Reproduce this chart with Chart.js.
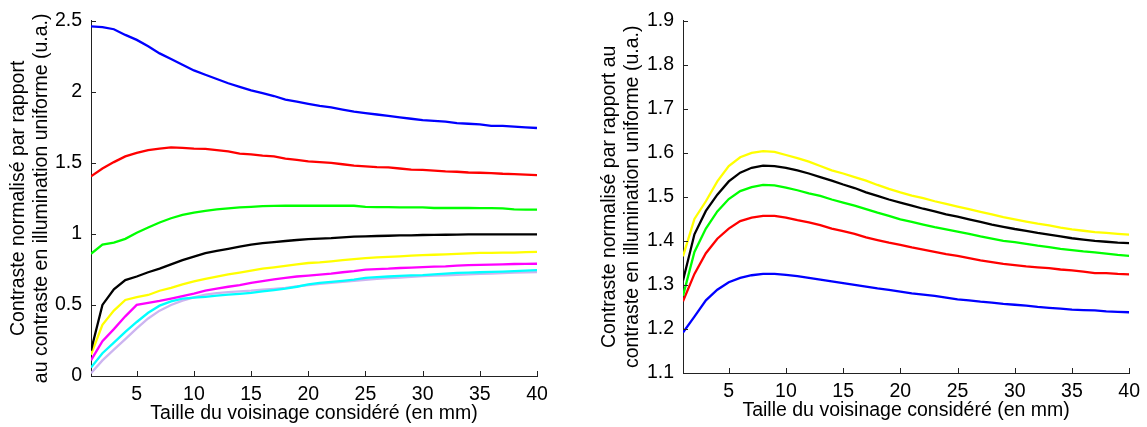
<!DOCTYPE html>
<html>
<head>
<meta charset="utf-8">
<script src="https://cdn.jsdelivr.net/npm/chart.js@4/dist/chart.umd.min.js"></script>
<style>
  html, body { margin: 0; padding: 0; background: #fff; }
  #wrap { position: relative; width: 1147px; height: 427px; }
  #leftChart { position: absolute; left: 0; top: 0; }
  #rightChart { position: absolute; left: 590px; top: 0; }
</style>
</head>
<body>
<div id="wrap">
  <canvas id="leftChart" width="560" height="427"></canvas>
  <canvas id="rightChart" width="557" height="427"></canvas>
</div>
<script>
// voisinage (mm)
const xValues = [1, 2, 3, 4, 5, 6, 7, 8, 9, 10, 11, 12, 13, 14, 15, 16, 17, 18, 19, 20,
    21, 22, 23, 24, 25, 26, 27, 28, 29, 30, 31, 32, 33, 34, 35, 36, 37, 38, 39, 40];
const xTicks = [5, 10, 15, 20, 25, 30, 35, 40];
const leftYTicks = [0, 0.5, 1, 1.5, 2, 2.5];
const rightYTicks = [1.1, 1.2, 1.3, 1.4, 1.5, 1.6, 1.7, 1.8, 1.9];

// left panel
const leftBlue = [2.46, 2.455, 2.44, 2.40, 2.365, 2.32, 2.27, 2.23, 2.19, 2.15, 2.12, 2.09, 2.06, 2.035, 2.01, 1.99, 1.97, 1.945, 1.93, 1.915,
    1.90, 1.89, 1.875, 1.86, 1.85, 1.84, 1.83, 1.82, 1.81, 1.80, 1.795, 1.79, 1.78, 1.775, 1.77, 1.76, 1.76, 1.755, 1.75, 1.745];
const leftRed = [1.405, 1.46, 1.505, 1.545, 1.57, 1.59, 1.60, 1.608, 1.605, 1.60, 1.598, 1.59, 1.58, 1.565, 1.56, 1.55, 1.545, 1.53, 1.52, 1.51,
    1.505, 1.50, 1.49, 1.48, 1.475, 1.47, 1.468, 1.46, 1.452, 1.45, 1.445, 1.44, 1.437, 1.432, 1.43, 1.428, 1.423, 1.42, 1.417, 1.414];
const leftGreen = [0.86, 0.925, 0.938, 0.965, 1.008, 1.045, 1.08, 1.11, 1.133, 1.15, 1.162, 1.172, 1.18, 1.186, 1.19, 1.195, 1.197, 1.198, 1.198, 1.198,
    1.198, 1.198, 1.198, 1.198, 1.19, 1.188, 1.188, 1.187, 1.186, 1.186, 1.182, 1.182, 1.182, 1.182, 1.181, 1.181, 1.18, 1.172, 1.17, 1.17];
const leftBlack = [0.18, 0.50, 0.61, 0.675, 0.70, 0.73, 0.755, 0.785, 0.815, 0.84, 0.865, 0.88, 0.895, 0.91, 0.925, 0.935, 0.942, 0.95, 0.957, 0.963,
    0.967, 0.97, 0.975, 0.98, 0.982, 0.985, 0.987, 0.99, 0.99, 0.992, 0.993, 0.994, 0.995, 0.996, 0.996, 0.997, 0.997, 0.997, 0.997, 0.997];
const leftYellow = [0.15, 0.36, 0.46, 0.535, 0.555, 0.57, 0.60, 0.62, 0.645, 0.665, 0.683, 0.70, 0.715, 0.728, 0.742, 0.755, 0.765, 0.775, 0.785, 0.795,
    0.80, 0.807, 0.815, 0.822, 0.83, 0.835, 0.838, 0.842, 0.847, 0.85, 0.853, 0.856, 0.86, 0.863, 0.866, 0.867, 0.868, 0.868, 0.871, 0.873];
const leftMagenta = [0.11, 0.245, 0.33, 0.42, 0.50, 0.515, 0.528, 0.545, 0.562, 0.58, 0.60, 0.615, 0.628, 0.64, 0.655, 0.668, 0.68, 0.69, 0.70, 0.706,
    0.713, 0.72, 0.73, 0.738, 0.748, 0.752, 0.755, 0.76, 0.763, 0.766, 0.77, 0.772, 0.776, 0.78, 0.782, 0.784, 0.786, 0.788, 0.789, 0.79];
const leftCyan = [0.06, 0.16, 0.235, 0.31, 0.38, 0.445, 0.495, 0.525, 0.545, 0.552, 0.557, 0.565, 0.572, 0.578, 0.585, 0.595, 0.605, 0.615, 0.628, 0.645,
    0.655, 0.662, 0.67, 0.678, 0.69, 0.695, 0.70, 0.705, 0.708, 0.71, 0.715, 0.72, 0.725, 0.727, 0.73, 0.733, 0.735, 0.738, 0.742, 0.745];
const leftLavender = [0.02, 0.11, 0.185, 0.26, 0.335, 0.405, 0.46, 0.50, 0.53, 0.553, 0.572, 0.583, 0.59, 0.595, 0.60, 0.607, 0.613, 0.62, 0.63, 0.64,
    0.648, 0.655, 0.662, 0.67, 0.677, 0.683, 0.688, 0.693, 0.698, 0.703, 0.706, 0.709, 0.712, 0.715, 0.718, 0.721, 0.724, 0.727, 0.729, 0.731];

// right panel
const rightYellow = [1.365, 1.45, 1.49, 1.535, 1.57, 1.59, 1.60, 1.604, 1.602, 1.595, 1.588, 1.58, 1.57, 1.56, 1.553, 1.545, 1.537, 1.527, 1.518, 1.51,
    1.503, 1.497, 1.49, 1.484, 1.478, 1.472, 1.466, 1.46, 1.454, 1.449, 1.444, 1.439, 1.435, 1.43, 1.426, 1.423, 1.42, 1.418, 1.416, 1.414];
const rightBlack = [1.31, 1.415, 1.468, 1.505, 1.535, 1.555, 1.566, 1.571, 1.57, 1.566, 1.56, 1.553, 1.545, 1.537, 1.528, 1.52, 1.51, 1.502, 1.494, 1.487,
    1.48, 1.473, 1.467, 1.46, 1.455, 1.449, 1.443, 1.437, 1.432, 1.427, 1.423, 1.418, 1.414, 1.41, 1.406, 1.403, 1.40, 1.398, 1.396, 1.395];
const rightGreen = [1.275, 1.375, 1.428, 1.467, 1.495, 1.513, 1.522, 1.527, 1.526, 1.521, 1.515, 1.508, 1.502, 1.494, 1.487, 1.48, 1.472, 1.464, 1.457, 1.449,
    1.443, 1.437, 1.431, 1.426, 1.421, 1.416, 1.41, 1.405, 1.40, 1.397, 1.393, 1.389, 1.386, 1.382, 1.379, 1.376, 1.374, 1.371, 1.368, 1.366];
const rightRed = [1.263, 1.325, 1.372, 1.405, 1.428, 1.445, 1.453, 1.457, 1.457, 1.453, 1.447, 1.442, 1.436, 1.428, 1.422, 1.416, 1.408, 1.402, 1.396, 1.391,
    1.385, 1.38, 1.375, 1.37, 1.366, 1.361, 1.356, 1.352, 1.348, 1.345, 1.342, 1.34, 1.338, 1.335, 1.333, 1.33, 1.327, 1.327, 1.325, 1.324];
const rightBlue = [1.192, 1.228, 1.265, 1.289, 1.306, 1.316, 1.322, 1.325, 1.325, 1.323, 1.32, 1.316, 1.312, 1.308, 1.304, 1.30, 1.296, 1.292, 1.289, 1.285,
    1.281, 1.278, 1.275, 1.271, 1.267, 1.265, 1.262, 1.26, 1.257, 1.255, 1.253, 1.25, 1.248, 1.246, 1.244, 1.243, 1.242, 1.24, 1.239, 1.238];

const FONT = 'Liberation Sans, Arial, sans-serif';
const FONT_SIZE = 19.5;
const xTitle = 'Taille du voisinage considéré (en mm)';

function line(values, color, order) {
    return {
        data: values.map((v, i) => ({ x: xValues[i], y: v })),
        borderColor: color,
        borderWidth: 2.3,
        pointRadius: 0,
        tension: 0,
        fill: false,
        order: order
    };
}

// matlab style: ticks pointing into the plot
const innerTicks = {
    id: 'innerTicks',
    afterDatasetsDraw(chart) {
        const { ctx, chartArea, scales } = chart;
        ctx.save();
        ctx.strokeStyle = '#222';
        ctx.lineWidth = 1;
        ctx.beginPath();
        scales.x.ticks.forEach(t => {
            const px = Math.round(scales.x.getPixelForValue(t.value)) + 0.5;
            ctx.moveTo(px, chartArea.bottom);
            ctx.lineTo(px, chartArea.bottom - 5);
        });
        scales.y.ticks.forEach(t => {
            const py = Math.round(scales.y.getPixelForValue(t.value)) + 0.5;
            ctx.moveTo(chartArea.left, py);
            ctx.lineTo(chartArea.left + 5, py);
        });
        ctx.stroke();
        ctx.restore();
    }
};

function makeChart(id, datasets, yMin, yMax, yTicks, yTitle, geom) {
    const ctx = document.getElementById(id).getContext('2d');
    return new Chart(ctx, {
        type: 'line',
        data: { datasets: datasets },
        options: {
            responsive: false,
            animation: false,
            devicePixelRatio: 1,
            layout: { padding: { left: 0, top: geom.top, right: geom.right, bottom: 0 } },
            plugins: { legend: { display: false }, tooltip: { enabled: false } },
            scales: {
                x: {
                    type: 'linear',
                    min: 1,
                    max: 40,
                    afterBuildTicks: (scale) => { scale.ticks = xTicks.map(v => ({ value: v })); },
                    afterFit: (scale) => { scale.height = geom.xHeight; },
                    grid: { display: false, drawTicks: false },
                    border: { display: true, color: '#222', width: 1 },
                    ticks: { color: '#000', padding: 7, maxRotation: 0, font: { family: FONT, size: FONT_SIZE } },
                    title: {
                        display: true,
                        text: xTitle,
                        color: '#000',
                        padding: { top: 0, bottom: geom.xTitlePad },
                        font: { family: FONT, size: FONT_SIZE, lineHeight: 1.2 }
                    }
                },
                y: {
                    min: yMin,
                    max: yMax,
                    afterBuildTicks: (scale) => { scale.ticks = yTicks.map(v => ({ value: v })); },
                    afterFit: (scale) => { scale.width = geom.yWidth; },
                    grid: { display: false, drawTicks: false },
                    border: { display: true, color: '#222', width: 1 },
                    ticks: {
                        color: '#000',
                        padding: 9,
                        font: { family: FONT, size: FONT_SIZE },
                        callback: (v) => String(Math.round(v * 10) / 10)
                    },
                    title: {
                        display: true,
                        text: yTitle,
                        color: '#000',
                        padding: { top: geom.yTitlePad, bottom: 0 },
                        font: { family: FONT, size: FONT_SIZE, lineHeight: 1.2 }
                    }
                }
            }
        },
        plugins: [innerTicks]
    });
}

makeChart('leftChart', [
    line(leftBlue, '#0000ff', 1),
    line(leftRed, '#ff0000', 2),
    line(leftGreen, '#00ff00', 3),
    line(leftBlack, '#000000', 4),
    line(leftYellow, '#ffff00', 5),
    line(leftMagenta, '#ff00ff', 6),
    line(leftCyan, '#00ffff', 7),
    line(leftLavender, '#ccb4f0', 8)
], 0, 2.5, leftYTicks,
    ['Contraste normalisé par rapport', 'au contraste en illumination uniforme (u.a.)'],
    { top: 17, right: 23, xHeight: 51, yWidth: 91, xTitlePad: 1.5, yTitlePad: 6.5 });

makeChart('rightChart', [
    line(rightYellow, '#ffff00', 1),
    line(rightBlack, '#000000', 2),
    line(rightGreen, '#00ff00', 3),
    line(rightRed, '#ff0000', 4),
    line(rightBlue, '#0000ff', 5)
], 1.1, 1.9, rightYTicks,
    ['Contraste normalisé par rapport au', 'contraste en illumination uniforme (u.a.)'],
    { top: 14, right: 17, xHeight: 54, yWidth: 93, xTitlePad: 4.5, yTitlePad: 8 });
</script>
</body>
</html>
